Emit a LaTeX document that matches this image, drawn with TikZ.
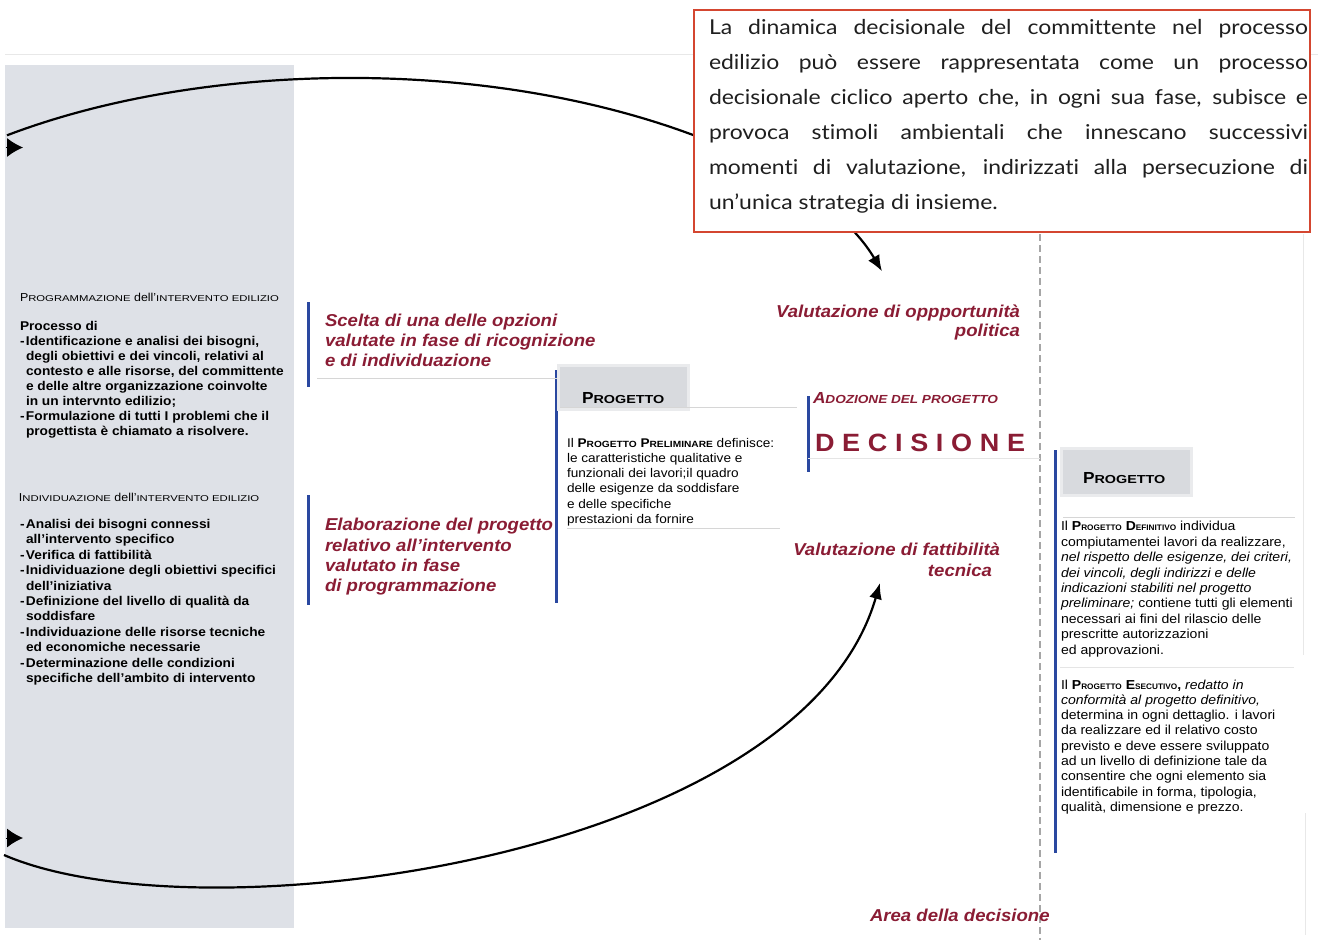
\documentclass[tikz,border=0pt]{standalone}
\usepackage{fontspec}
\setmainfont{Liberation Sans}[FakeStretch=1.08]
\newfontfamily\notefont{Lato}[FakeStretch=1.12, Ligatures=NoCommon]
\usetikzlibrary{arrows.meta}

\definecolor{panelgray}{RGB}{222,225,231}
\definecolor{decred}{RGB}{138,28,52}
\definecolor{barblue}{RGB}{42,72,160}
\definecolor{boxred}{RGB}{212,70,48}
\definecolor{hdrgray}{RGB}{216,218,222}
\definecolor{rulegray}{RGB}{214,214,214}

% faux small capitals: stretch factor, size, text
\newcommand\fakesc[3]{{\fontsize{#2}{#2}\selectfont\addfontfeature{FakeStretch=#1}#3}}
\newcommand\lettergap{\hspace{7.7pt}}
\newcommand\dashitem{\makebox[6pt][l]{-}}
\newcommand\contind{\hspace*{6pt}}

\begin{document}
\begin{tikzpicture}[x=1pt,y=-1pt,
  every node/.style={inner sep=0pt, outer sep=0pt},
  bar/.style={draw=barblue, line width=3pt},
  hair/.style={draw=rulegray, line width=0.9pt},
  faint/.style={draw=black!9, line width=1pt},
  cyc/.style={draw=black, line width=2.2pt, -{Latex[length=16pt,width=13pt]}},
  intip/.style={draw=black, line width=1pt, -{Latex[length=16pt,width=19pt]}},
  redlabel/.style={text=decred, font=\bfseries\itshape\fontsize{17.2}{20}\selectfont},
  panelhead/.style={anchor=base west, font=\fontsize{11.5}{12}\selectfont},
  panelbody/.style={anchor=north west, align=left},
  hdrbox/.style={fill=hdrgray},
  hdrtext/.style={anchor=base west, font=\bfseries\fontsize{16}{16}\selectfont},
  bodytext/.style={anchor=north west, align=left}
]
\useasboundingbox (0,0) rectangle (1318,940);
\fill[white] (0,0) rectangle (1318,940);

% frame lines and left panel
\draw[faint] (5,54) -- (1318,54);
\draw[faint] (1303,234) -- (1303,655);
\draw[faint] (1305,813) -- (1305,935);
\fill[panelgray] (5,65) rectangle (294,928);

% area boundary
\draw[gray!70, line width=1.3pt, dash pattern=on 7pt off 4pt] (1040,234) -- (1040,940);

% left panel texts
\node (prog-head) [panelhead] at (20,301.5)
  {P\fakesc{1.33}{8.5}{ROGRAMMAZIONE} dell’\fakesc{1.33}{8.5}{INTERVENTO EDILIZIO}};
\node (prog-body) [panelbody, font=\bfseries\fontsize{12.7}{15}\selectfont] at (20,321.3)
  {Processo di\\
   \dashitem Identificazione e analisi dei bisogni,\\
   \contind degli obiettivi e dei vincoli, relativi al\\
   \contind contesto e alle risorse, del committente\\
   \contind e delle altre organizzazione coinvolte\\
   \contind in un intervnto edilizio;\\
   \dashitem Formulazione di tutti I problemi che il\\
   \contind progettista è chiamato a risolvere.};
\node (indiv-head) [panelhead] at (19,501.5)
  {I\fakesc{1.33}{8.5}{NDIVIDUAZIONE} dell’\fakesc{1.33}{8.5}{INTERVENTO EDILIZIO}};
\node (indiv-body) [panelbody, font=\bfseries\fontsize{12.7}{15.4}\selectfont] at (20,519.3)
  {\dashitem Analisi dei bisogni connessi\\
   \contind all’intervento specifico\\
   \dashitem Verifica di fattibilità\\
   \dashitem Inidividuazione degli obiettivi specifici\\
   \contind dell’iniziativa\\
   \dashitem Definizione del livello di qualità da\\
   \contind soddisfare\\
   \dashitem Individuazione delle risorse tecniche\\
   \contind ed economiche necessarie\\
   \dashitem Determinazione delle condizioni\\
   \contind specifiche dell’ambito di intervento};

% blue side bars
\draw[bar] (308,302) -- (308,387);
\draw[bar] (308,495) -- (308,605);
\draw[bar] (556,370) -- (556,603);
\draw[bar] (808,396) -- (808,472);
\draw[bar] (1055,450) -- (1055,853);

% phase labels
\node (scelta) [redlabel, anchor=north west, align=left] at (325,314.5)
  {Scelta di una delle opzioni\\valutate in fase di ricognizione\\e di individuazione};
\draw[hair] (317,378) -- (557,378);
\node (elabora) [redlabel, anchor=north west, align=left,
  font=\bfseries\itshape\fontsize{17.2}{20.3}\selectfont] at (325,518.5)
  {Elaborazione del progetto\\relativo all’intervento\\valutato in fase\\di programmazione};

% preliminary project
\fill[hdrgray!55] (557,364) rectangle (690,411);
\fill[hdrbox] (560,367) rectangle (687,408);
\draw[hair] (560,407.5) -- (797,407.5);
\node (prog1-head) [hdrtext] at (582,403) {P\fakesc{1.24}{11.6}{ROGETTO}};
\node (prog1-body) [bodytext, font=\fontsize{12.6}{15.3}\selectfont] at (567,437.9)
  {Il \textbf{P\fakesc{1.13}{9}{ROGETTO} P\fakesc{1.13}{9}{RELIMINARE}} definisce:\\
   le caratteristiche qualitative e\\
   funzionali dei lavori;il quadro\\
   delle esigenze da soddisfare\\
   e delle specifiche\\
   prestazioni da fornire};
\draw[hair] (567,528) -- (780,528);

% decision
\node (oppo) [redlabel, anchor=north east, align=right,
  font=\bfseries\itshape\fontsize{17.2}{19.5}\selectfont] at (1020,304.5)
  {Valutazione di oppportunità\\politica};
\node (adozione) [anchor=base west, text=decred, font=\bfseries\itshape\fontsize{16}{16}\selectfont]
  at (813,403) {A\fakesc{1.16}{11.7}{DOZIONE DEL PROGETTO}};
\node (decisione) [anchor=base west, text=decred, font=\bfseries\fontsize{25}{25}\selectfont]
  at (815,451) {D\lettergap E\lettergap C\lettergap I\lettergap S\lettergap I\lettergap O\lettergap N\lettergap E};
\draw[hair, draw=black!10] (808,458) -- (1040,458);
\node (fatt) [redlabel, anchor=north east, align=right,
  font=\bfseries\itshape\fontsize{17.2}{21}\selectfont] at (1000,542.8)
  {Valutazione di fattibilità\\tecnica\hspace*{8pt}};
\node (area) [redlabel, anchor=base west] at (870,921) {Area della decisione};

% definitive and executive project
\fill[hdrgray!55] (1060,447) rectangle (1193,497);
\fill[hdrbox] (1063,450) rectangle (1190,494);
\node (prog2-head) [hdrtext] at (1083,483) {P\fakesc{1.24}{11.6}{ROGETTO}};
\draw[hair] (1063,517) -- (1295,517);
\node (prog2-def) [bodytext, font=\fontsize{13}{15.4}\selectfont] at (1061,521.4)
  {Il \textbf{P\fakesc{1.03}{8}{ROGETTO} D\fakesc{1.03}{8}{EFINITIVO}} individua\\
   compiutamentei lavori da realizzare,\\
   \textit{nel rispetto delle esigenze, dei criteri,}\\
   \textit{dei vincoli, degli indirizzi e delle}\\
   \textit{indicazioni stabiliti nel progetto}\\
   \textit{preliminare;} contiene tutti gli elementi\\
   necessari ai fini del rilascio delle\\
   prescritte autorizzazioni\\
   ed approvazioni.};
\draw[hair, draw=black!10] (1060,667) -- (1294,667);
\node (prog2-esec) [bodytext, font=\fontsize{13}{15.3}\selectfont] at (1061,679.6)
  {Il \textbf{P\fakesc{1.03}{8}{ROGETTO} E\fakesc{1.03}{8}{SECUTIVO},} \textit{redatto in}\\
   \textit{conformità al progetto definitivo,}\\
   determina in ogni dettaglio. i lavori\\
   da realizzare ed il relativo costo\\
   previsto e deve essere sviluppato\\
   ad un livello di definizione tale da\\
   consentire che ogni elemento sia\\
   identificabile in forma, tipologia,\\
   qualità, dimensione e prezzo.};

% the decision cycle
\coordinate (topstart) at (7,135.3);
\draw[cyc] (topstart) arc[start angle=231.66, end angle=344.15, x radius=553, y radius=266];
\coordinate (botstart) at (4,855);
\coordinate (botend) at (880,583);
\draw[cyc] (botstart) .. controls (200,940) and (800,860) .. (botend);
\coordinate (intop) at (6,147.5);
\coordinate (intoptip) at (23,147.5);
\draw[intip] (intop) -- (intoptip);
\coordinate (inbot) at (6,838);
\coordinate (inbottip) at (23,838);
\draw[intip] (inbot) -- (inbottip);

% commentary box
\node (note) [draw=boxred, line width=2pt, fill=white, anchor=north west,
  minimum width=616pt, minimum height=222pt] at (694,10) {};
\node (notetext) [anchor=north west, align=left, text=black!88,
  font=\notefont\fontsize{20.5}{35}\selectfont] at (709,19.3)
  {\makebox[599pt][s]{La dinamica decisionale del committente nel processo}\\
   \makebox[599pt][s]{edilizio può essere rappresentata come un processo}\\
   \makebox[599pt][s]{decisionale ciclico aperto che, in ogni sua fase, subisce e}\\
   \makebox[599pt][s]{provoca stimoli ambientali che innescano successivi}\\
   \makebox[599pt][s]{momenti di valutazione, indirizzati alla persecuzione di}\\
   un’unica strategia di insieme.};
\end{tikzpicture}
\end{document}
